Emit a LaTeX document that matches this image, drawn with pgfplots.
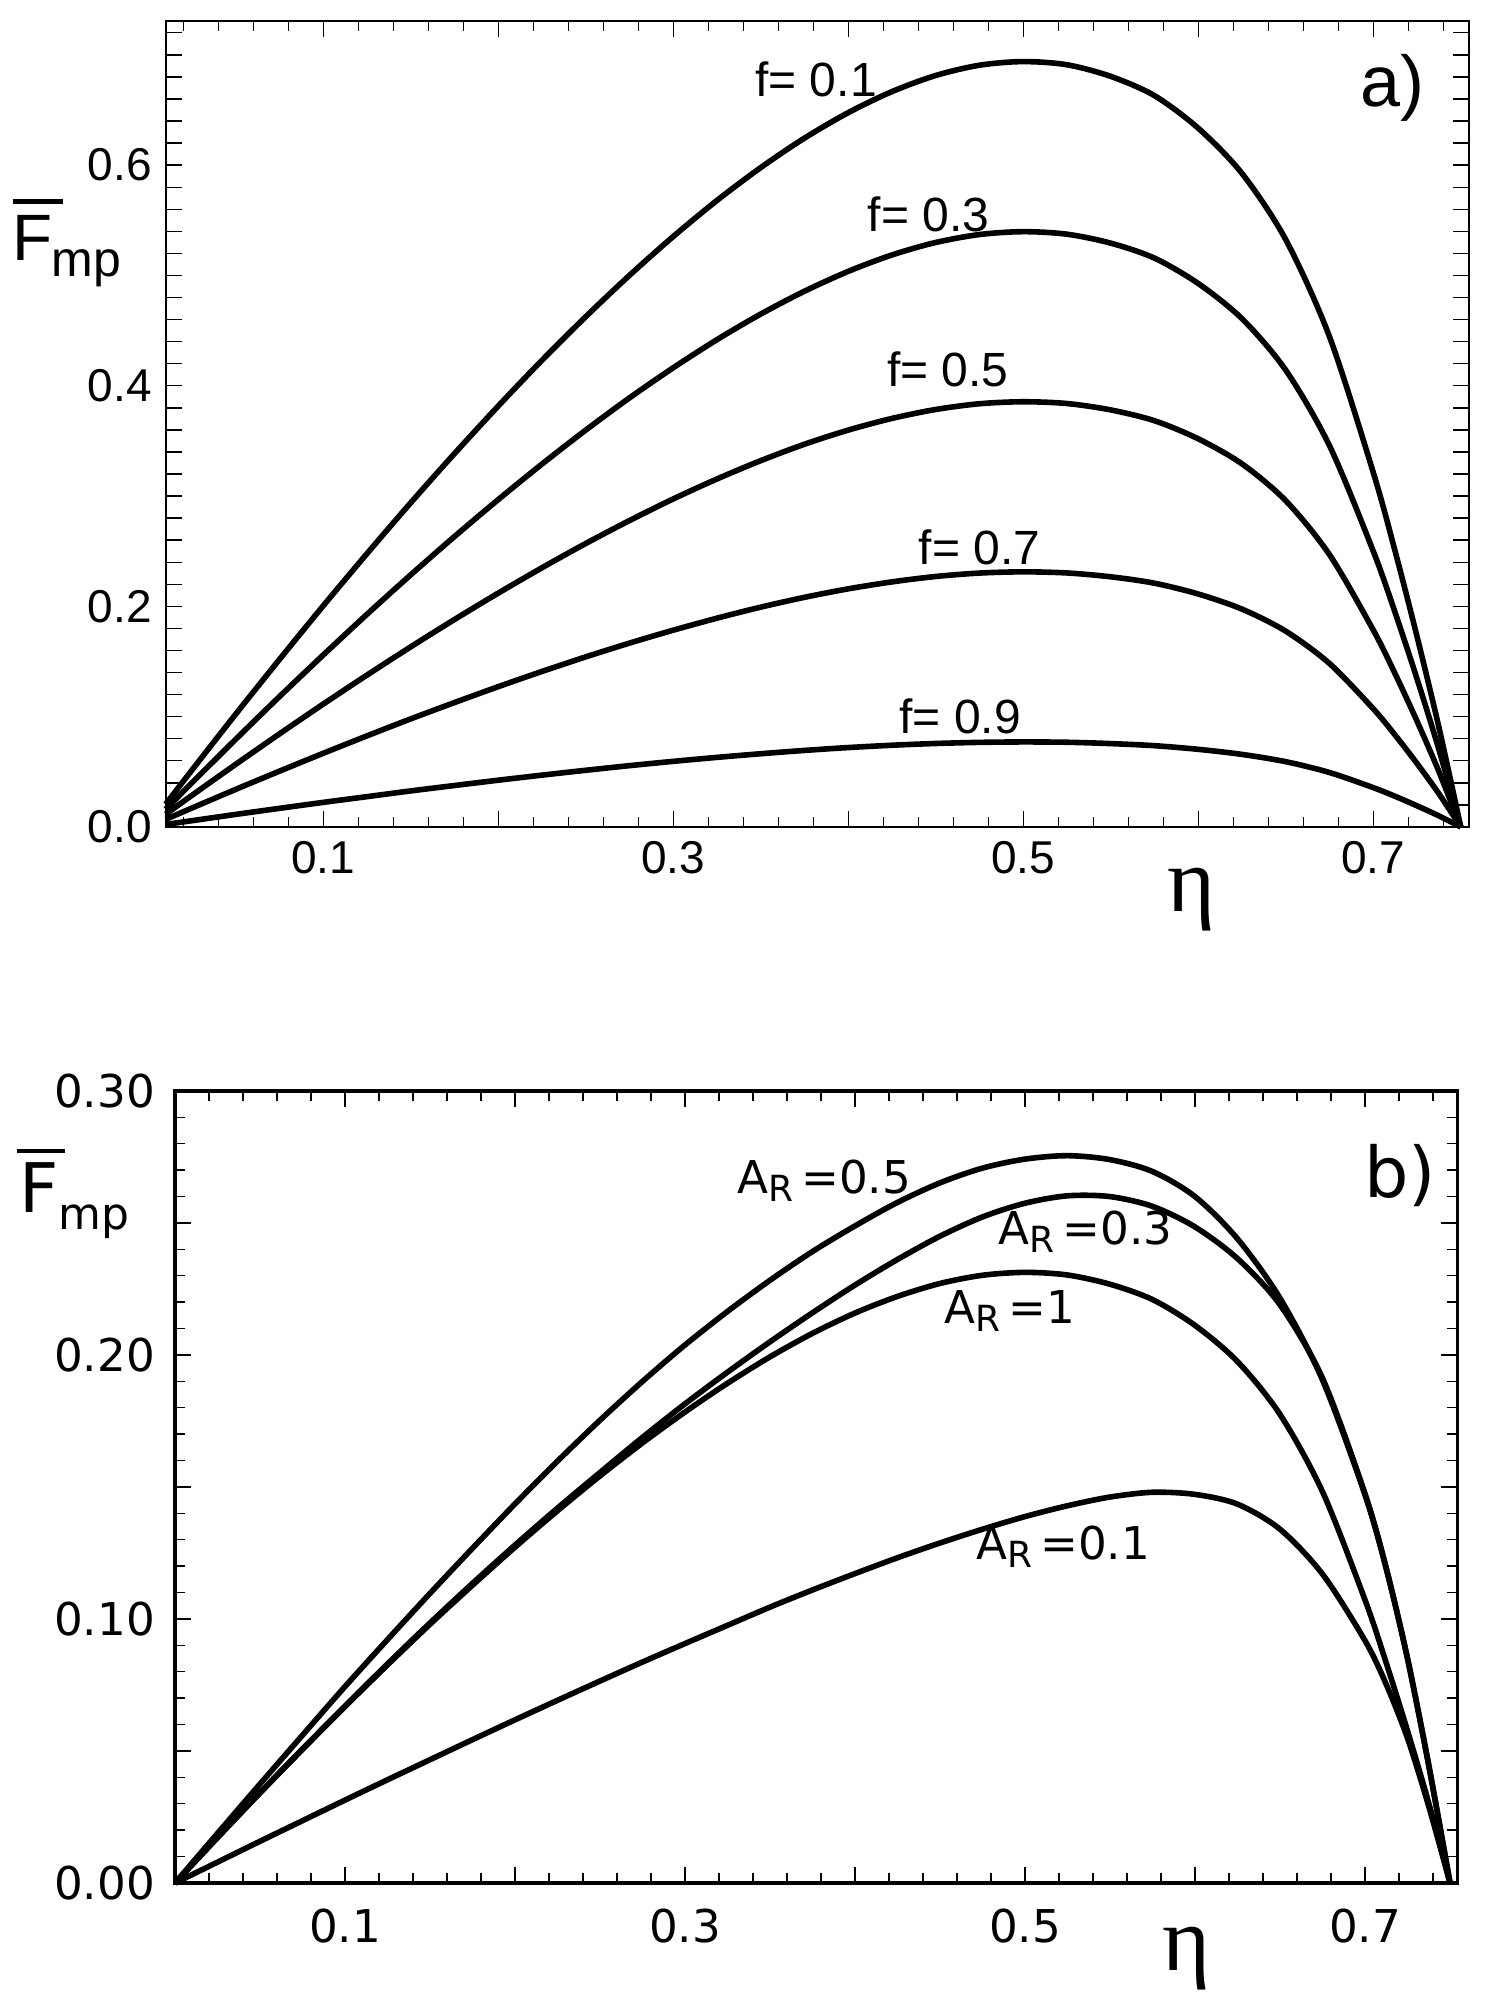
\documentclass[border=0pt]{standalone}
\usepackage{fontspec}
\setmainfont{Liberation Sans}
\newfontfamily\dejavu{DejaVu Sans}
\newfontfamily\lserif{Liberation Serif}
\usepackage{pgfplots}
\pgfplotsset{compat=1.18}

\pgfplotstableread{
eta    f1     f3     f5     f7     f9
0.01   0.0207 0.0161 0.0115 0.0069 0.0023
0.025  0.0516 0.0401 0.0287 0.0172 0.0057
0.05   0.1023 0.0795 0.0568 0.0341 0.0114
0.075  0.1519 0.1182 0.0844 0.0506 0.0169
0.10   0.2005 0.1559 0.1114 0.0668 0.0223
0.125  0.2478 0.1928 0.1377 0.0826 0.0275
0.15   0.2939 0.2286 0.1633 0.0980 0.0327
0.175  0.3385 0.2633 0.1881 0.1128 0.0376
0.20   0.3816 0.2968 0.2120 0.1272 0.0424
0.225  0.4231 0.3290 0.2350 0.1410 0.0470
0.25   0.4626 0.3598 0.2570 0.1542 0.0514
0.275  0.5001 0.3890 0.2778 0.1667 0.0556
0.30   0.5353 0.4163 0.2974 0.1784 0.0595
0.325  0.5680 0.4418 0.3155 0.1893 0.0631
0.35   0.5978 0.4650 0.3321 0.1993 0.0664
0.375  0.6245 0.4857 0.3470 0.2082 0.0694
0.40   0.6476 0.5037 0.3598 0.2159 0.0720
0.425  0.6667 0.5186 0.3704 0.2222 0.0741
0.45   0.6813 0.5299 0.3785 0.2271 0.0757
0.475  0.6906 0.5371 0.3837 0.2302 0.0767
0.50   0.6939 0.5397 0.3855 0.2313 0.0771
0.525  0.6910 0.5374 0.3839 0.2303 0.0768
0.55   0.6805 0.5293 0.3781 0.2268 0.0756
0.575  0.6630 0.5157 0.3683 0.2210 0.0737
0.60   0.6335 0.4927 0.3519 0.2112 0.0704
0.625  0.5925 0.4608 0.3292 0.1975 0.0658
0.65   0.5325 0.4142 0.2958 0.1775 0.0592
0.675  0.4445 0.3457 0.2469 0.1482 0.0494
0.70   0.3215 0.2501 0.1786 0.1072 0.0357
0.7125 0.2500 0.1944 0.1389 0.0833 0.0278
0.725  0.1728 0.1344 0.0960 0.0576 0.0192
0.7375 0.0905 0.0704 0.0503 0.0302 0.0101
0.75   0      0      0      0      0
}\toptable

\pgfplotstableread{
eta    a05    a03    a1     a01
0      0      0      0      0
0.025  0.0188 0.0172 0.0172 0.0079
0.05   0.0375 0.0342 0.0341 0.0158
0.075  0.0560 0.0508 0.0506 0.0236
0.10   0.0744 0.0670 0.0668 0.0314
0.125  0.0922 0.0830 0.0826 0.0391
0.15   0.1097 0.0985 0.0980 0.0467
0.175  0.1268 0.1135 0.1128 0.0543
0.20   0.1436 0.1280 0.1272 0.0618
0.225  0.1598 0.1420 0.1410 0.0692
0.25   0.1753 0.1555 0.1542 0.0765
0.275  0.1900 0.1688 0.1667 0.0837
0.30   0.2038 0.1815 0.1784 0.0907
0.325  0.2165 0.1935 0.1893 0.0976
0.35   0.2283 0.2050 0.1993 0.1045
0.375  0.2392 0.2160 0.2082 0.1110
0.40   0.2489 0.2265 0.2159 0.1172
0.425  0.2578 0.2362 0.2222 0.1232
0.45   0.2652 0.2450 0.2271 0.1288
0.475  0.2708 0.2523 0.2302 0.1340
0.50   0.2742 0.2575 0.2313 0.1388
0.525  0.2755 0.2603 0.2303 0.1429
0.55   0.2740 0.2600 0.2268 0.1462
0.575  0.2695 0.2563 0.2210 0.1480
0.60   0.2600 0.2485 0.2112 0.1472
0.625  0.2440 0.2365 0.1975 0.1435
0.65   0.2215 0.2190 0.1775 0.1340
0.675  0.1905 0.1912 0.1482 0.1170
0.70   0.1470 0.1474 0.1072 0.0918
0.7125 0.1190 0.1192 0.0833 0.0752
0.725  0.0850 0.0850 0.0576 0.0548
0.7375 0.0445 0.0445 0.0302 0.0290
0.75   0      0      0      0
}\bottable

\newcommand{\FmpA}{\mbox{\vbox{\hrule height 1.2pt width 12.5pt\kern2.75pt\hbox{\fontsize{16.4}{16}\selectfont F}}\kern-2.8pt\raisebox{-4pt}{\fontsize{12.5}{13}\selectfont mp}}}
\newcommand{\FmpB}{\mbox{\dejavu\vbox{\hrule height 1.0pt width 12pt\kern2.25pt\hbox{\kern0.5pt\fontsize{17.1}{17}\selectfont F}}\kern-1.7pt\raisebox{-4.25pt}{\fontsize{11}{12}\selectfont mp}}}
\newcommand{\AR}[1]{{\dejavu\fontsize{11.3}{12}\selectfont A\raisebox{-2pt}{\fontsize{9}{9}\selectfont R}\hspace{2pt}=#1}}
\newcommand{\flab}[1]{{\fontsize{12}{12}\selectfont f= #1}}

\begin{document}
\begin{tikzpicture}
\useasboundingbox (0,0) rectangle (374.25pt,502.5pt);

% ---------------- panel a) ----------------
\begin{axis}[
  at={(41.43pt,295.75pt)}, anchor=south west,
  scale only axis, width=325.9pt, height=201.5pt,
  xmin=0.01, xmax=0.7549, ymin=0, ymax=0.7307,
  axis line style={line width=0.45pt},
  xtick={0.1,0.2,0.3,0.4,0.5,0.6,0.7},
  xticklabels={0.1,,0.3,,0.5,,0.7},
  minor xtick={0.02,0.04,0.06,0.08,0.12,0.14,0.16,0.18,0.22,0.24,0.26,0.28,0.32,0.34,0.36,0.38,0.42,0.44,0.46,0.48,0.52,0.54,0.56,0.58,0.62,0.64,0.66,0.68,0.72,0.74},
  ytick={0,0.2,0.4,0.6},
  yticklabels={0.0,0.2,0.4,0.6},
  extra y ticks={0.02,0.04,0.06,0.08,0.1,0.12,0.14,0.16,0.18,0.22,0.24,0.26,0.28,0.3,0.32,0.34,0.36,0.38,0.42,0.44,0.46,0.48,0.5,0.52,0.54,0.56,0.58,0.62,0.64,0.66,0.68,0.7,0.72},
  extra y tick labels={},
  extra y tick style={yticklabel pos=right},
  major tick length=4pt, minor tick length=2.6pt,
  tick style={black, line width=0.35pt},
  tick label style={font=\fontsize{11.5}{12}\selectfont},
  /pgf/number format/assume math mode=true,
  clip=false,
]
\addplot[black, line width=1.4pt, smooth] table[x=eta, y=f1] {\toptable};
\addplot[black, line width=1.4pt, smooth] table[x=eta, y=f3] {\toptable};
\addplot[black, line width=1.4pt, smooth] table[x=eta, y=f5] {\toptable};
\addplot[black, line width=1.4pt, smooth] table[x=eta, y=f7] {\toptable};
\addplot[black, line width=1.4pt, smooth] table[x=eta, y=f9] {\toptable};

\node[anchor=base, inner sep=0pt] at (axis cs:0.3816,0.662) {\flab{0.1}};
\node[anchor=base, inner sep=0pt] at (axis cs:0.4459,0.540) {\flab{0.3}};
\node[anchor=base, inner sep=0pt] at (axis cs:0.457,0.399) {\flab{0.5}};
\node[anchor=base, inner sep=0pt] at (axis cs:0.475,0.238) {\flab{0.7}};
\node[anchor=base, inner sep=0pt] at (axis cs:0.464,0.085) {\flab{0.9}};
\node[inner sep=0pt] at (axis cs:0.711,0.670) {\fontsize{18}{18}\selectfont a)};
\node[inner sep=0pt] at (axis cs:-0.0465,0.5295) {\FmpA};
\node[anchor=base, inner sep=0pt] at (axis cs:0.596,-0.077) {\lserif\fontsize{23}{23}\selectfont η};
\end{axis}

% ---------------- panel b) ----------------
\begin{axis}[
  at={(43.75pt,31.75pt)}, anchor=south west,
  scale only axis, width=320.58pt, height=198pt,
  xmin=0, xmax=0.7543, ymin=0, ymax=0.30,
  axis line style={line width=0.85pt},
  xtick={0.1,0.2,0.3,0.4,0.5,0.6,0.7},
  xticklabels={0.1,,0.3,,0.5,,0.7},
  minor xtick={0.02,0.04,0.06,0.08,0.12,0.14,0.16,0.18,0.22,0.24,0.26,0.28,0.32,0.34,0.36,0.38,0.42,0.44,0.46,0.48,0.52,0.54,0.56,0.58,0.62,0.64,0.66,0.68,0.72,0.74},
  ytick={0,0.1,0.2,0.3},
  yticklabels={0.00,0.10,0.20,0.30},
  extra y ticks={0.05,0.15,0.25},
  extra y tick labels={},
  extra y tick style={yticklabel pos=right},
  minor ytick={0.01,0.02,0.03,0.04,0.06,0.07,0.08,0.09,0.11,0.12,0.13,0.14,0.16,0.17,0.18,0.19,0.21,0.22,0.23,0.24,0.26,0.27,0.28,0.29},
  major tick length=4pt, minor tick length=2.5pt,
  tick style={black, line width=0.35pt},
  tick label style={font=\dejavu\fontsize{11.3}{12}\selectfont},
  xticklabel style={yshift=-3pt},
  yticklabel style={xshift=-1.5pt},
  /pgf/number format/assume math mode=true,
  clip=false,
]
\addplot[black, line width=1.4pt, smooth] table[x=eta, y=a05] {\bottable};
\addplot[black, line width=1.4pt, smooth] table[x=eta, y=a03] {\bottable};
\addplot[black, line width=1.4pt, smooth] table[x=eta, y=a1] {\bottable};
\addplot[black, line width=1.4pt, smooth] table[x=eta, y=a01] {\bottable};

\node[anchor=base, inner sep=0pt] at (axis cs:0.3818,0.261) {\AR{0.5}};
\node[anchor=base, inner sep=0pt] at (axis cs:0.5357,0.2418) {\AR{0.3}};
\node[anchor=base, inner sep=0pt] at (axis cs:0.491,0.212) {\AR{1}};
\node[anchor=base, inner sep=0pt] at (axis cs:0.5225,0.1227) {\AR{0.1}};
\node[inner sep=0pt] at (axis cs:0.7206,0.268) {\dejavu\fontsize{17.5}{18}\selectfont b)};
\node[inner sep=0pt] at (axis cs:-0.0598,0.261) {\FmpB};
\node[anchor=base, inner sep=0pt] at (axis cs:0.595,-0.0332) {\lserif\fontsize{23}{23}\selectfont η};
\end{axis}
\end{tikzpicture}
\end{document}
